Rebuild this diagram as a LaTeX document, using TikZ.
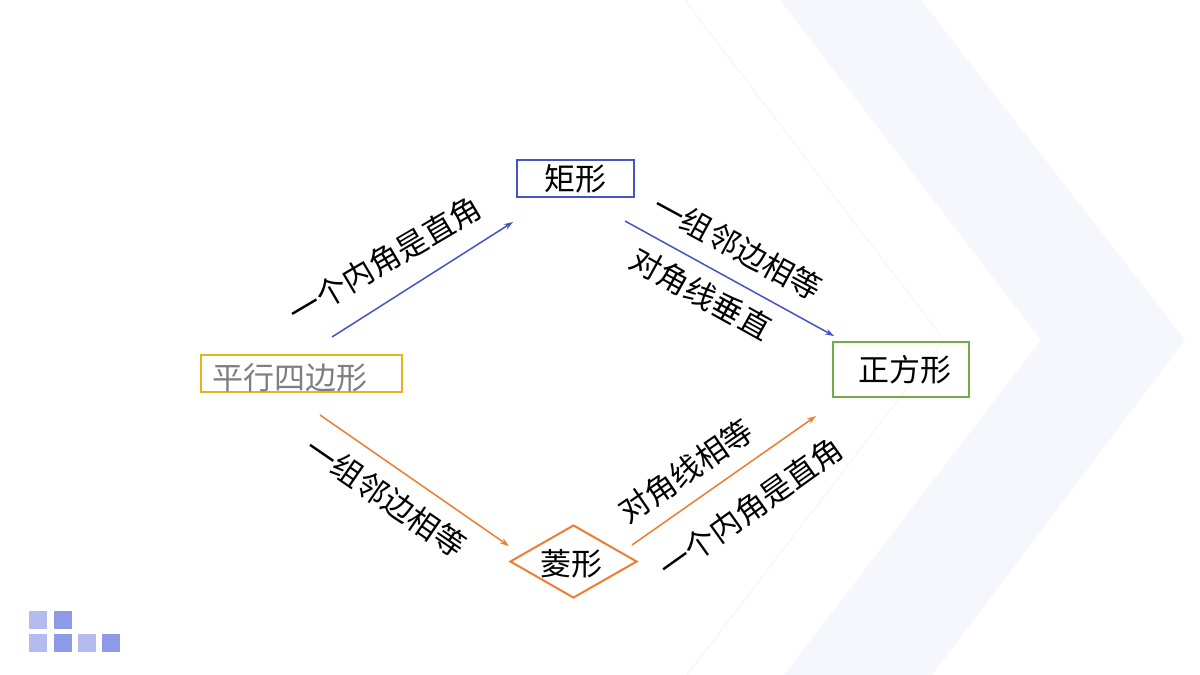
\documentclass[tikz,border=0pt]{standalone}
\usepackage{fontspec}
\setmainfont{Noto Sans CJK SC}
\usetikzlibrary{arrows.meta,shapes.geometric}
\definecolor{rblue}{RGB}{68,84,196}
\definecolor{rorange}{RGB}{237,125,49}
\definecolor{rgreen}{RGB}{112,173,71}
\definecolor{rgold}{RGB}{228,180,30}
\definecolor{rgrey}{RGB}{127,127,127}
\definecolor{band}{RGB}{246,247,252}
\definecolor{faint}{RGB}{243,244,246}
\definecolor{sqlight}{RGB}{180,187,238}
\definecolor{sqdark}{RGB}{142,154,232}
\begin{document}
\begin{tikzpicture}[x=1pt,y=-1pt,
  lbl/.style={font=\fontsize{31}{36}\selectfont, inner sep=0pt, text=black},
  boxnode/.style={draw, line width=2pt, inner sep=0pt, font=\fontsize{31}{36}\selectfont},
  conn/.style={line width=1.5pt, -{Stealth[length=9pt,width=6pt]}},
  sqbox/.style={inner sep=0pt, minimum size=18pt}]
\useasboundingbox (0,0) rectangle (1200,675);
\fill[white] (0,0) rectangle (1200,675);
% background chevron
\fill[band] (780,0) -- (921,0) -- (1185,340) -- (932,675) -- (784,675) -- (1041,340) -- cycle;
\draw[line width=0.8pt, faint] (685,0) -- (944,340) -- (687,675);

% nodes
\node[boxnode, draw=rblue, minimum width=117pt, minimum height=37pt] (rect) at (575.5,178.5) {矩形};
\node[boxnode, draw=rgold, minimum width=201pt, minimum height=37pt] (pgram) at (301.5,373.5) {};
\node[lbl, text=rgrey] (pgramtext) at (290,378) {平行四边形};
\node[boxnode, draw=rgreen, minimum width=136pt, minimum height=55pt] (square) at (901,369.5) {\hspace{8pt}正方形};
\node[diamond, draw=rorange, line width=2pt, inner sep=0pt, minimum width=127pt, minimum height=73pt] (rhomb) at (573.5,561.5) {};
\node[lbl] (rhombtext) at (571,564) {菱形};

% connector end points
\coordinate (a1s) at (332,337); \coordinate (a1e) at (513,222);
\coordinate (a2s) at (625,221); \coordinate (a2e) at (834,336);
\coordinate (a3s) at (320,415); \coordinate (a3e) at (509,546);
\coordinate (a4s) at (632,545); \coordinate (a4e) at (816,416);

\draw[conn, rblue] (a1s) -- (a1e);
\draw[conn, rblue] (a2s) -- (a2e);
\draw[conn, rorange] (a3s) -- (a3e);
\draw[conn, rorange] (a4s) -- (a4e);

% labels
\node[lbl, rotate=30.5] (l1) at (385,260) {一个内角是直角};
\node[lbl, rotate=-28.5] (l2) at (738,247) {一组邻边相等};
\node[lbl, rotate=-29] (l3) at (701,294) {对角线垂直};
\node[lbl, rotate=-34.5] (l4) at (386,497) {一组邻边相等};
\node[lbl, rotate=34.5] (l5) at (686,471) {对角线相等};
\node[lbl, rotate=35.5] (l6) at (751,508) {一个内角是直角};

% decorative squares
\node[sqbox, fill=sqlight] (s1) at (38,619.5) {};
\node[sqbox, fill=sqdark] (s2) at (62.5,619.5) {};
\node[sqbox, fill=sqlight] (s3) at (38,643) {};
\node[sqbox, fill=sqdark] (s4) at (62.5,643) {};
\node[sqbox, fill=sqlight] (s5) at (87,643) {};
\node[sqbox, fill=sqdark] (s6) at (111,643) {};
\end{tikzpicture}
\end{document}
